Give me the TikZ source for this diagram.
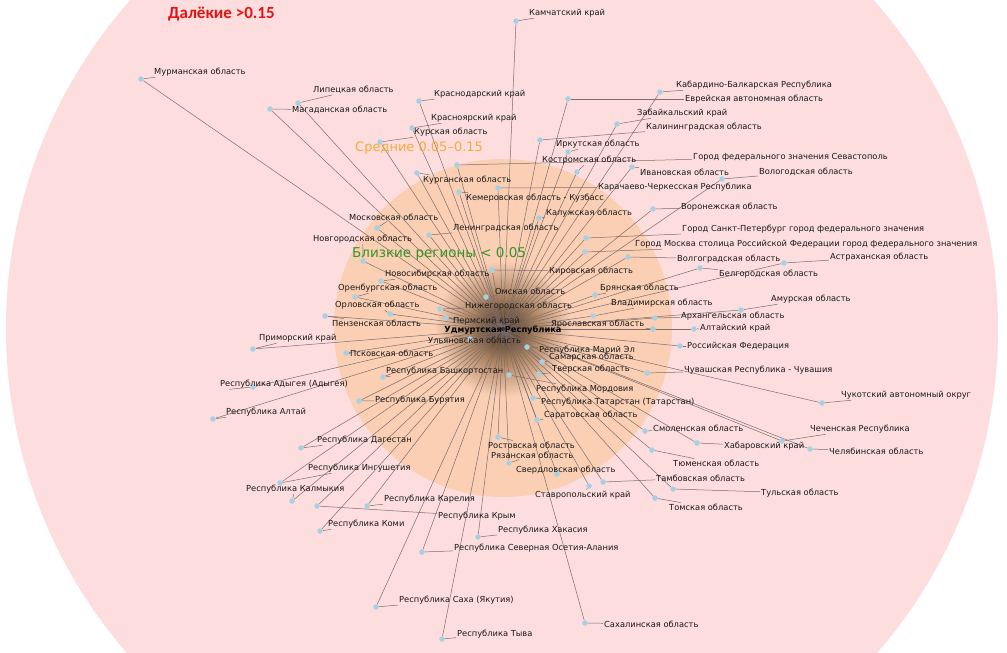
\documentclass[tikz,border=0pt]{standalone}
\usepackage{fontspec}
\setmainfont{DejaVu Sans}
\newfontfamily\titlefont{Carlito}
\definecolor{pinkbg}{RGB}{253,221,221}
\definecolor{orangebg}{RGB}{250,207,180}
\definecolor{edgecol}{RGB}{125,108,108}
\definecolor{dotcol}{RGB}{166,208,228}
\definecolor{txtcol}{RGB}{25,25,25}
\definecolor{titlered}{RGB}{225,20,20}
\definecolor{midorange}{RGB}{245,170,60}
\definecolor{neargreen}{RGB}{50,150,40}
\definecolor{haloA}{RGB}{35,25,12}
\definecolor{haloB}{RGB}{95,68,40}
\definecolor{haloC}{RGB}{170,130,95}
\pgfdeclareradialshading{halo}{\pgfpoint{0bp}{0bp}}{color(0bp)=(haloA); color(4bp)=(haloB); color(12bp)=(haloC); color(25bp)=(orangebg); color(50bp)=(orangebg)}
\pgfdeclarelayer{bglayer}
\pgfdeclarelayer{edgelayer}
\pgfsetlayers{bglayer,edgelayer,main}
\tikzset{
  dot/.style={circle, fill=dotcol, inner sep=0pt, minimum size=5.5pt},
  lbl/.style={anchor=west, inner sep=1pt, text=txtcol, font=\fontsize{8.3}{9}\selectfont},
  edge/.style={draw=edgecol, line width=0.5pt},
  leader/.style={draw=edgecol, line width=0.5pt},
  zonelbl/.style={anchor=west, inner sep=0pt}
}
\begin{document}
\begin{tikzpicture}[x=1pt,y=-1pt]
\useasboundingbox (0,0) rectangle (1007,653);
\begin{pgfonlayer}{bglayer}
  \fill[white] (0,0) rectangle (1007,653);
  \begin{scope}
    \clip (0,0) rectangle (1007,653);
    \fill[pinkbg] (502,328.5) circle (496pt);
  \end{scope}
  \fill[orangebg] (503,328) circle (169pt);
  \shade[shading=halo] (503,329) circle (68pt);
\end{pgfonlayer}

\node[dot, fill=black!80, minimum size=4pt] (c) at (503,329) {};

\foreach \n/\dx/\dy/\lx/\ly/\t in {
 1/516/21/528/13/Камчатский край,
 2/141/79/153/72/Мурманская область,
 3/660/92/675/85/Кабардино-Балкарская Республика,
 4/298/103/312/90/Липецкая область,
 5/419/101/433/94/Краснодарский край,
 6/568/99/684/99/Еврейская автономная область,
 7/270/109/291/110/Магаданская область,
 8/617/124/636/113/Забайкальский край,
 9/412/128/430/118/Красноярский край,
 10/540/140/645/127/Калининградская область,
 11/380/142/413/132/Курская область,
 12/568/152/555/144/Иркутская область,
 13/457/165/692/157/Город федерального значения Севастополь,
 14/577/172/541/160/Костромская область,
 15/632/167/639/172/Ивановская область,
 16/722/179/758/172/Вологодская область,
 17/417/173/422/180/Курганская область,
 18/498/188/597/187/Карачаево-Черкесская Республика,
 19/459/192/465/198/Кемеровская область - Кузбасс,
 20/653/209/680/207/Воронежская область,
 21/539/218/545/213/Калужская область,
 22/377/228/348/217/Московская область,
 23/586/238/681/229/Город Санкт-Петербург город федерального значения,
 24/429/235/452/228/Ленинградская область,
 25/363/261/312/239/Новгородская область,
 26/585/252/634/244/Город Москва столица Российской Федерации город федерального значения,
 27/628/257/676/259/Волгоградская область,
 28/784/263/829/257/Астраханская область,
 29/492/270/548/271/Кировская область,
 30/700/268/718/274/Белгородская область,
 31/381/281/384/274/Новосибирская область,
 32/486/297/494/291/Омская область,
 33/595/295/599/288/Брянская область,
 34/355/297/337/288/Оренбургская область,
 35/593/316/610/303/Владимирская область,
 36/741/310/770/299/Амурская область,
 37/390/314/334/305/Орловская область,
 38/440/309/464/306/Нижегородская область,
 39/655/318/680/316/Архангельская область,
 40/446/318/452/321/Пермский край,
 41/325/316/331/323/Пензенская область,
 42/653/329/550/324/Ярославская область,
 43/694/329/699/328/Алтайский край,
 45/470/339/427/340/Ульяновская область,
 46/253/349/258/338/Приморский край,
 47/680/346/686/346/Российская Федерация,
 48/346/353/349/353/Псковская область,
 49/527/347/538/350/Республика Марий Эл,
 50/542/362/548/357/Самарская область,
 51/647/373/683/370/Чувашская Республика - Чувашия,
 52/539/374/551/369/Тверская область,
 53/383/377/385/371/Республика Башкортостан,
 54/253/387/219/384/Республика Адыгея (Адыгея),
 55/509/375/535/389/Республика Мордовия,
 56/359/401/374/400/Республика Бурятия,
 57/533/398/540/402/Республика Татарстан (Татарстан),
 58/822/403/840/395/Чукотский автономный округ,
 59/213/419/225/412/Республика Алтай,
 60/537/420/543/415/Саратовская область,
 61/645/431/652/428/Смоленская область,
 62/782/441/809/429/Чеченская Республика,
 63/301/448/316/440/Республика Дагестан,
 64/498/437/487/445/Ростовская область,
 65/697/443/723/446/Хабаровский край,
 66/810/449/828/451/Челябинская область,
 67/509/463/490/455/Рязанская область,
 68/280/483/307/468/Республика Ингушетия,
 69/557/474/515/470/Свердловская область,
 70/652/450/672/463/Тюменская область,
 71/603/482/655/478/Тамбовская область,
 72/292/501/245/489/Республика Калмыкия,
 73/367/506/383/499/Республика Карелия,
 74/673/489/760/493/Тульская область,
 75/589/486/534/495/Ставропольский край,
 76/655/498/668/507/Томская область,
 77/317/506/437/516/Республика Крым,
 78/320/531/327/524/Республика Коми,
 79/478/537/497/530/Республика Хакасия,
 80/422/552/453/548/Республика Северная Осетия-Алания,
 81/376/607/398/600/Республика Саха (Якутия),
 82/585/623/603/624/Сахалинская область,
 83/442/639/456/634/Республика Тыва}{
  \node[dot] (d\n) at (\dx,\dy) {};
  \node[lbl] (l\n) at (\lx,\ly) {\t};
  \begin{pgfonlayer}{edgelayer}
    \draw[edge] (c) -- (d\n);
    \draw[leader] (d\n) -- (l\n);
  \end{pgfonlayer}
}

\node[inner sep=0pt, text=black, font=\bfseries\fontsize{8.3}{9}\selectfont] (cl) at (503,330) {Удмуртская Республика};

\node[zonelbl, text=titlered, font=\titlefont\bfseries\fontsize{17}{18}\selectfont] (far) at (168,14) {Далёкие >0.15};
\node[zonelbl, text=midorange, font=\fontsize{13}{14}\selectfont] (mid) at (355,148) {Средние 0.05–0.15};
\node[zonelbl, text=neargreen, font=\fontsize{13.5}{14}\selectfont] (near) at (352,254) {Близкие регионы < 0.05};
\end{tikzpicture}
\end{document}
